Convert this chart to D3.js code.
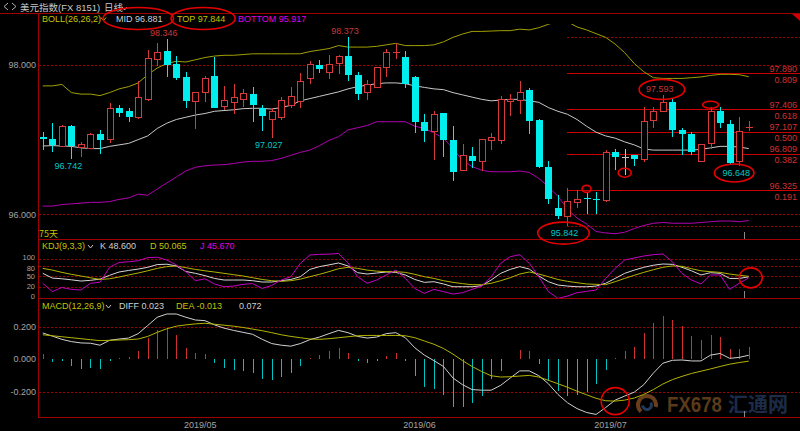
<!DOCTYPE html>
<html><head><meta charset="utf-8">
<script src="https://cdn.jsdelivr.net/npm/d3@7/dist/d3.min.js"></script>
<style>
html,body{margin:0;padding:0;background:#000;}
svg{display:block;}
text{font-family:"Liberation Sans",Arial,"Noto Sans CJK SC",sans-serif;font-size:9px;}
</style></head><body>
<svg id="chart" width="800" height="431"></svg>
<script>
// ---------------- DATA ----------------
const dates = [
"2019-04-08","2019-04-09","2019-04-10","2019-04-11","2019-04-12","2019-04-15","2019-04-16","2019-04-17","2019-04-18","2019-04-19",
"2019-04-22","2019-04-23","2019-04-24","2019-04-25","2019-04-26","2019-04-29","2019-04-30","2019-05-01","2019-05-02","2019-05-03",
"2019-05-06","2019-05-07","2019-05-08","2019-05-09","2019-05-10","2019-05-13","2019-05-14","2019-05-15","2019-05-16","2019-05-17",
"2019-05-20","2019-05-21","2019-05-22","2019-05-23","2019-05-24","2019-05-27","2019-05-28","2019-05-29","2019-05-30","2019-05-31",
"2019-06-03","2019-06-04","2019-06-05","2019-06-06","2019-06-07","2019-06-10","2019-06-11","2019-06-12","2019-06-13","2019-06-14",
"2019-06-17","2019-06-18","2019-06-19","2019-06-20","2019-06-21","2019-06-24","2019-06-25","2019-06-26","2019-06-27","2019-06-28",
"2019-07-01","2019-07-02","2019-07-03","2019-07-04","2019-07-05","2019-07-08","2019-07-09","2019-07-10","2019-07-11","2019-07-12",
"2019-07-15","2019-07-16","2019-07-17","2019-07-18","2019-07-19"];

const open = [97.04,97.01,96.92,97.18,96.90,96.89,97.07,97.01,97.42,97.38,
97.30,97.55,98.08,98.19,98.01,97.84,97.52,97.64,97.85,97.45,
97.50,97.55,97.61,97.42,97.27,97.30,97.46,97.52,97.82,97.995,
97.91,98.03,98.12,97.87,97.64,97.71,97.97,98.17,98.11,97.84,
97.24,97.12,97.36,96.99,96.59,96.78,96.71,97.00,96.99,97.52,
97.53,97.66,97.26,96.64,96.09,95.98,96.17,96.22,96.21,96.19,
96.83,96.77,96.79,96.74,97.26,97.38,97.50,97.13,97.08,96.72,
96.95,97.38,97.21,96.71,97.16];
const high = [97.10,97.22,97.20,97.19,96.97,97.09,97.13,97.49,97.46,97.42,
97.78,98.20,98.30,98.346,98.12,97.90,97.64,97.85,98.11,97.72,
97.75,97.68,97.70,97.46,97.43,97.57,97.71,97.89,98.05,98.07,
98.13,98.13,98.373,97.91,97.80,97.97,98.21,98.30,98.19,97.85,
97.34,97.38,97.36,97.18,96.94,96.90,97.01,97.09,97.58,97.61,
97.78,97.69,97.27,96.71,96.26,96.35,96.33,96.30,96.30,96.86,
96.87,96.87,96.79,97.44,97.44,97.593,97.55,97.15,97.10,96.94,
97.44,97.44,97.26,97.30,97.25];
const low = [96.86,96.84,96.91,96.742,96.77,96.87,96.81,96.96,97.31,97.24,
97.28,97.52,97.98,97.84,97.80,97.43,97.14,97.50,97.43,97.40,
97.35,97.44,97.24,97.12,97.027,97.26,97.43,97.43,97.75,97.89,
97.81,97.88,97.79,97.53,97.53,97.69,97.84,98.08,97.69,97.09,
96.97,96.73,96.77,96.45,96.59,96.62,96.58,96.86,96.94,97.32,
97.35,97.08,96.62,96.14,95.94,95.842,96.08,96.01,96.00,96.16,
96.59,96.53,96.65,96.70,97.16,97.38,97.03,96.79,96.79,96.72,
96.88,97.15,96.66,96.648,97.12];
const close = [97.01,96.93,97.18,96.92,96.94,97.08,97.00,97.42,97.36,97.30,
97.57,98.09,98.17,98.00,97.82,97.52,97.64,97.83,97.43,97.53,
97.57,97.62,97.46,97.32,97.38,97.53,97.58,97.79,98.02,97.95,
98.02,98.12,97.87,97.61,97.75,97.97,98.17,98.18,97.75,97.23,
97.12,97.35,97.00,96.57,96.79,96.71,97.01,97.04,97.55,97.55,
97.64,97.25,96.64,96.21,95.98,96.18,96.21,96.21,96.20,96.83,
96.77,96.77,96.74,97.25,97.38,97.50,97.13,97.08,96.83,96.94,
97.38,97.22,96.69,97.12,97.17];

const bollUp = [97.72,97.72,97.74,97.63,97.61,97.61,97.59,97.63,97.68,97.71,
97.76,97.87,97.96,98.02,98.05,98.04,98.07,98.10,98.12,98.13,
98.13,98.14,98.15,98.15,98.15,98.15,98.15,98.15,98.18,98.20,
98.22,98.26,98.24,98.24,98.24,98.25,98.27,98.29,98.26,98.26,
98.26,98.27,98.31,98.37,98.415,98.45,98.45,98.455,98.46,98.46,
98.48,98.47,98.50,98.545,98.59,98.58,98.51,98.47,98.42,98.37,
98.28,98.165,98.02,97.91,97.83,97.82,97.82,97.82,97.83,97.84,
97.86,97.875,97.875,97.87,97.844];
const bollMid = [96.915,96.92,96.915,96.91,96.89,96.88,96.88,96.91,96.93,96.95,
97.00,97.05,97.15,97.22,97.27,97.30,97.33,97.35,97.38,97.39,
97.40,97.415,97.42,97.42,97.41,97.43,97.46,97.52,97.55,97.58,
97.61,97.64,97.68,97.71,97.73,97.75,97.76,97.76,97.75,97.72,
97.70,97.68,97.67,97.63,97.60,97.57,97.54,97.52,97.53,97.54,
97.54,97.52,97.50,97.43,97.38,97.34,97.27,97.18,97.10,97.05,
97.02,96.97,96.93,96.875,96.86,96.86,96.86,96.86,96.86,96.87,
96.89,96.91,96.91,96.90,96.881];
const bollLow = [96.11,96.11,96.13,96.14,96.15,96.16,96.16,96.17,96.20,96.22,
96.27,96.255,96.34,96.42,96.50,96.58,96.63,96.65,96.66,96.665,
96.68,96.70,96.71,96.71,96.72,96.75,96.79,96.83,96.86,96.92,
96.99,97.04,97.13,97.16,97.19,97.24,97.24,97.24,97.24,97.18,
97.15,97.09,97.02,96.88,96.72,96.64,96.59,96.57,96.57,96.57,
96.58,96.56,96.48,96.37,96.24,96.07,95.95,95.87,95.77,95.75,
95.74,95.76,95.81,95.85,95.88,95.89,95.88,95.88,95.88,95.89,
95.90,95.91,95.91,95.90,95.917];

const kVals = [58.7,45,43,40,36.5,38.5,42,53,62.5,67,
71,76,84,85,80,64,58.7,52,44,39.4,
39.4,39.4,37.5,33.7,33.7,37.5,41,49,70,78,
83,88.5,80,60.6,56.7,59.6,62.5,61.5,54,41,
32.7,34.6,28,20,20,20,23,39.4,58.7,70,
78,71,51,34.6,25,22,20,20,22,30,
44,58.7,68,76,82,85.6,84.6,76,66,54,
60.6,58.7,44,44,48.6];
const dVals = [73,68,61.5,55.8,51,46,41,43,48,54,
59.6,66,73,78,80,75,70,66,62.5,58.7,
54.8,51,46,41,37.5,35.6,37.5,42,49,55.8,
63.5,72,76,73,68,65,63.5,63.5,61.5,55.8,
49,44,37.5,32.7,29,26,26,30,37.5,46,
56.7,62.5,56.7,49,41,35.6,31.7,28,27,26,
34.6,44,53,61.5,69,76,80,79,72,66,
63.5,61.5,56.7,53,50.065];
const jVals = [30,6,18,12.5,10.6,30,33,76,90,92,
95,104,105,97,83,63.5,37.5,43,28,20,
22,27,29,15,24,39.4,49,87.5,111.5,113.5,
114,116,89,49,30,39.4,54,68,44,15,
1,12.5,6,-1,3,12.5,22,49,87.5,106.7,
112.5,87.5,49,6,-13.5,-6.7,3,6.7,10.6,44,
73,97,103,108.7,112.5,114.4,92,58.7,39.4,28,
54,54,12.5,30,45.67];

const macdHist = [0.028,-0.016,-0.01,-0.04,-0.063,-0.053,-0.059,-0.012,0.008,0.014,
0.05,0.13,0.18,0.19,0.147,0.07,0.038,0.032,-0.026,-0.053,
-0.067,-0.071,-0.087,-0.121,-0.129,-0.111,-0.087,-0.046,0.004,0.024,
0.048,0.065,0.04,-0.01,-0.026,-0.01,0.018,0.038,-0.012,-0.103,
-0.174,-0.184,-0.222,-0.293,-0.293,-0.269,-0.228,-0.121,-0.071,0.002,
0.055,0.048,-0.032,-0.133,-0.198,-0.228,-0.224,-0.204,-0.152,-0.067,
0.006,0.048,0.075,0.16,0.222,0.267,0.24,0.202,0.141,0.115,
0.145,0.135,0.059,0.059,0.072];
const diffVals = [0.160,0.141,0.121,0.107,0.099,0.097,0.085,0.115,0.123,0.129,
0.156,0.206,0.257,0.277,0.277,0.257,0.240,0.236,0.21,0.19,
0.176,0.164,0.152,0.121,0.095,0.085,0.079,0.095,0.119,0.135,
0.156,0.176,0.162,0.139,0.129,0.135,0.156,0.162,0.131,0.069,
0.024,-0.01,-0.046,-0.117,-0.158,-0.188,-0.192,-0.192,-0.162,-0.117,
-0.073,-0.073,-0.103,-0.152,-0.218,-0.269,-0.305,-0.329,-0.341,-0.299,
-0.253,-0.228,-0.204,-0.158,-0.087,-0.026,-0.008,-0.006,-0.012,-0.012,
0.024,0.034,0.004,0.01,0.023];
const deaVals = [0.149,0.143,0.137,0.131,0.125,0.119,0.113,0.115,0.117,0.119,
0.123,0.139,0.164,0.186,0.202,0.21,0.216,0.22,0.214,0.208,
0.202,0.194,0.184,0.174,0.162,0.149,0.139,0.131,0.123,0.121,
0.125,0.131,0.137,0.143,0.145,0.145,0.145,0.145,0.143,0.131,
0.111,0.091,0.065,0.030,-0.01,-0.046,-0.077,-0.103,-0.111,-0.109,
-0.105,-0.101,-0.111,-0.131,-0.152,-0.174,-0.198,-0.220,-0.242,-0.257,
-0.259,-0.253,-0.240,-0.218,-0.188,-0.154,-0.127,-0.107,-0.089,-0.075,
-0.061,-0.046,-0.032,-0.022,-0.013];

const priceTicks = [98, 96];
const kdjTicks = [100, 80, 50, 20, 0];
const kdjGrid = [100, 80, 50, 20];
const macdTicks = [0.2, 0, -0.2];
const macdGrid = [0.2, -0.2];
const monthStarts = ["2019-05-01", "2019-06-03", "2019-07-01"];
const monthLabels = ["2019/05", "2019/06", "2019/07"];

const fibStart = "2019-06-24";
const fibSolid = [97.890, 97.406, 97.107, 96.809, 96.325];
const fibRatio = ["0.809", "0.618", "0.500", "0.382", "0.191"];
const fibDotted = [98.373, 95.842];

const highMarks = [13, 32, 65];
const lowMarks = [3, 24, 55, 73];

// ---------------- DRAW ----------------
const svg = d3.select("#chart");
const C = {red:"#d83a3a", cyan:"#00eeee", gray:"#c4c4c4", border:"#a00000", grid:"#a00000",
  axis:"#a4a4a4", olive:"#c4c400", up:"#a0a000", mid:"#c8c8c8", low:"#b000b0", mag:"#e000e0",
  fib:"#cc0000", fibText:"#d43030", ann:"#e60000", hiTxt:"#c83838", loTxt:"#00c8c8"};

svg.append("rect").attr("width",800).attr("height",431).attr("fill","#000");

const L = 38, step = 9.54;
const x = d3.scaleBand().domain(dates).range([L, L + dates.length*step]).padding(0);
const cx = i => x(dates[i]) + x.bandwidth()/2;
const yP = d3.scaleLinear().domain([96, 98]).range([214.3, 65]);
const yK = d3.scaleLinear().domain([0, 100]).range([293.7, 259]);
const yM = d3.scaleLinear().domain([-0.2, 0.2]).range([391.5, 326.5]);
const cr = v => Math.round(v) + 0.5;

const defs = svg.append("defs");
function clip(id, y0, y1){ defs.append("clipPath").attr("id",id).append("rect")
  .attr("x",L+1).attr("y",y0).attr("width",800-L).attr("height",y1-y0); }
clip("cMain", 24, 239); clip("cKdj", 240, 298); clip("cMacd", 299, 417);

// watermark (under everything)
const wm = svg.append("g");
wm.append("path").attr("d", d3.arc()({innerRadius:7, outerRadius:11, startAngle:-2.4, endAngle:1.8}))
  .attr("transform","translate(647,405)").attr("fill","#6a3e1a");
wm.append("path").attr("d", d3.arc()({innerRadius:3, outerRadius:6, startAngle:1.0, endAngle:4.6}))
  .attr("transform","translate(647,405)").attr("fill","#23395a");
wm.append("text").attr("x",667).attr("y",412).attr("textLength",55).attr("lengthAdjust","spacingAndGlyphs")
  .style("font-size","22px").style("font-weight","bold").attr("fill","#5a3a1a").text("FX678");
wm.append("text").attr("x",728).attr("y",412).attr("textLength",60).attr("lengthAdjust","spacingAndGlyphs")
  .style("font-size","20px").style("font-weight","bold").style("font-family","'Noto Sans CJK SC',sans-serif")
  .attr("fill","#1c2c48").text("汇通网");

// grid dotted
const gGrid = svg.append("g").attr("shape-rendering","crispEdges");
function dotted(y, x0){ gGrid.append("line").attr("x1",x0).attr("x2",800).attr("y1",cr(y)).attr("y2",cr(y))
  .attr("stroke",C.grid).attr("stroke-dasharray","2,2"); }
priceTicks.forEach(v => dotted(yP(v), L+1));
kdjGrid.forEach(v => dotted(yK(v), L+1));
macdGrid.forEach(v => dotted(yM(v), L+1));
fibDotted.forEach(v => dotted(yP(v), cx(dates.indexOf(fibStart))));

// frame
const gF = svg.append("g").attr("shape-rendering","crispEdges").attr("stroke",C.border);
gF.append("line").attr("x1",0).attr("x2",800).attr("y1",13.5).attr("y2",13.5);
gF.append("line").attr("x1",L+0.5).attr("x2",L+0.5).attr("y1",13).attr("y2",418);
[239.5, 298.5, 417.5].forEach(y => gF.append("line").attr("x1",L).attr("x2",800).attr("y1",y).attr("y2",y));
svg.append("path").attr("d","M792,14L800,14L800,21Z").attr("fill","#cc0000");

// axis labels
const gA = svg.append("g").attr("fill",C.axis).attr("text-anchor","end");
priceTicks.forEach(v => gA.append("text").attr("x",36).attr("y",yP(v)+3.3).text(v.toFixed(3)));
// KDJ tick labels are tightly packed: small font, nudged apart so they do not collide
const kdjNudge = {100:-1.6, 80:1.8, 50:0, 20:-0.8, 0:2.2};
kdjTicks.forEach(v => gA.append("text").attr("x",35).attr("y",yK(v)+2.8+kdjNudge[v])
  .style("font-size","7.5px").text(v));
macdTicks.forEach(v => gA.append("text").attr("x",36).attr("y",yM(v)+3.3).text(v.toFixed(3)));
monthStarts.forEach((d,k) => svg.append("text").attr("x",x(d)).attr("y",428).attr("text-anchor","middle")
  .attr("fill",C.axis).text(monthLabels[k]));

// fib solid lines
const fx0 = cx(dates.indexOf(fibStart));
const gFib = svg.append("g");
fibSolid.forEach((v,k) => {
  gFib.append("line").attr("x1",fx0).attr("x2",800).attr("y1",cr(yP(v))).attr("y2",cr(yP(v)))
    .attr("stroke",C.fib).attr("shape-rendering","crispEdges");
  gFib.append("text").attr("x",797).attr("y",yP(v)-1.5).attr("text-anchor","end").attr("fill",C.fibText).text(v.toFixed(3));
  gFib.append("text").attr("x",797).attr("y",yP(v)+9.5).attr("text-anchor","end").attr("fill",C.fibText).text(fibRatio[k]);
});

// bands
const gMain = svg.append("g").attr("clip-path","url(#cMain)");
const lineP = d3.line().x((d,i)=>cx(i)).y(d=>yP(d));
[[bollUp,C.up],[bollMid,C.mid],[bollLow,C.low]].forEach(([arr,col]) =>
  gMain.append("path").datum(arr).attr("d",lineP).attr("fill","none").attr("stroke",col).attr("stroke-width",1));

// candles
const gC = gMain.append("g").attr("shape-rendering","crispEdges");
dates.forEach((d,i) => {
  const o=open[i], c=close[i], h=high[i], l=low[i];
  const col = c>o ? C.red : (c<o ? C.cyan : C.gray);
  const xc = cr(cx(i));
  const yt = yP(Math.max(o,c)), yb = yP(Math.min(o,c));
  gC.append("line").attr("x1",xc).attr("x2",xc).attr("y1",yP(h)).attr("y2",yP(l)).attr("stroke",col);
  if (yb - yt < 1.5) {
    gC.append("line").attr("x1",xc-3.5).attr("x2",xc+3.5).attr("y1",cr(yt)).attr("y2",cr(yt)).attr("stroke",col);
  } else if (c>o) {
    gC.append("rect").attr("x",xc-3).attr("y",cr(yt)).attr("width",6).attr("height",Math.round(yb)-Math.round(yt))
      .attr("fill","#000").attr("stroke",col);
  } else {
    gC.append("rect").attr("x",xc-3.5).attr("y",Math.round(yt)).attr("width",7).attr("height",Math.max(1,Math.round(yb)-Math.round(yt)))
      .attr("fill",col);
  }
});

// extreme labels
const gLab = svg.append("g").attr("text-anchor","middle");
const labPos = {};
highMarks.forEach(i => { const t = gLab.append("text").attr("x",cx(i)-3).attr("y",yP(high[i])-3).attr("fill",C.hiTxt).text(high[i].toFixed(3)); labPos[i]=t; });
lowMarks.forEach(i => { const t = gLab.append("text").attr("x",cx(i)-3).attr("y",yP(low[i])+10).attr("fill",C.loTxt).text(low[i].toFixed(3)); labPos['l'+i]=t; });

// KDJ
const gK = svg.append("g").attr("clip-path","url(#cKdj)");
const lineK = d3.line().x((d,i)=>cx(i)).y(d=>yK(d));
[[kVals,"#d8d8d8"],[dVals,"#b4b400"],[jVals,"#c400c4"]].forEach(([arr,col]) =>
  gK.append("path").datum(arr).attr("d",lineK).attr("fill","none").attr("stroke",col));

// MACD
const gM = svg.append("g").attr("clip-path","url(#cMacd)");
const gH = gM.append("g").attr("shape-rendering","crispEdges");
macdHist.forEach((v,i) => gH.append("line").attr("x1",cr(cx(i))).attr("x2",cr(cx(i)))
  .attr("y1",yM(0)).attr("y2",yM(v)).attr("stroke", v>=0 ? "#d03030" : "#00c4c4"));
const lineM = d3.line().x((d,i)=>cx(i)).y(d=>yM(d));
gM.append("path").datum(diffVals).attr("d",lineM).attr("fill","none").attr("stroke","#d0d0d0");
gM.append("path").datum(deaVals).attr("d",lineM).attr("fill","none").attr("stroke","#b4b400");

// cursor ticks
const xCur = cr(x(dates[dates.length-1]));
[[232,239],[291,298],[411,417]].forEach(([a,b]) => svg.append("line").attr("x1",xCur).attr("x2",xCur)
  .attr("y1",a).attr("y2",b).attr("stroke","#8a8a8a").attr("shape-rendering","crispEdges"));

// legends
const n = dates.length-1;
function chev(x0, yb, col){ svg.append("polyline").attr("points",`${x0},${yb-5} ${x0+2.5},${yb-2} ${x0+5},${yb-5}`)
  .attr("fill","none").attr("stroke",col).attr("stroke-width",1); }
function txt(xp, yp, s, col){ return svg.append("text").attr("x",xp).attr("y",yp).attr("fill",col).text(s); }
// title
svg.append("polyline").attr("points","8,3 4,6.5 8,10").attr("fill","none").attr("stroke","#b0b0b0");
svg.append("polyline").attr("points","12,3 16,6.5 12,10").attr("fill","none").attr("stroke","#b0b0b0");
txt(20, 10.5, "美元指数(FX 8151)", "#c8c8c8").style("font-size","9.5px");
txt(104, 10.5, "日线", "#c8c8c8").style("font-size","9.5px");
chev(122, 12, "#c8c8c8");
// BOLL
const yl = 21.5;
txt(42, yl, "BOLL(26,26,2)", C.olive); chev(101, yl+1, C.olive);
const tMid = txt(116, yl, "MID " + bollMid[n].toFixed(3), "#c8d0d8");
const tTop = txt(177, yl, "TOP " + bollUp[n].toFixed(3), C.olive);
txt(238, yl, "BOTTOM " + bollLow[n].toFixed(3), C.mag);
// KDJ
const yk = 249;
txt(42, yk, "KDJ(9,3,3)", C.olive); chev(88, yk+1, "#c8c8c8");
txt(100, yk, "K " + kVals[n].toFixed(3), "#d0d0d0");
txt(150, yk, "D " + dVals[n].toFixed(3), C.olive);
txt(200, yk, "J " + jVals[n].toFixed(3), C.mag);
// MACD
const ym = 309;
txt(42, ym, "MACD(12,26,9)", C.olive); chev(106, ym+1, "#c8c8c8");
txt(119, ym, "DIFF " + diffVals[n].toFixed(3), "#d0d0d0");
txt(176, ym, "DEA " + deaVals[n].toFixed(3), C.olive);
txt(239, ym, macdHist[n].toFixed(3), "#d0d0d0");
// 75天
txt(39, 236.5, "75天", C.olive).style("font-family","'Noto Sans CJK SC',sans-serif");

// annotations (hand-drawn red ellipses)
const gAnn = svg.append("g").attr("fill","none").attr("stroke",C.ann).attr("stroke-width",1.6);
function ell(cxp, cyp, rx, ry){ gAnn.append("ellipse").attr("cx",cxp).attr("cy",cyp).attr("rx",rx).attr("ry",ry); }
function aroundText(t, padX, ry, dx){ const b = t.node().getBBox(); ell(b.x + b.width/2 + (dx||0), b.y + b.height/2, b.width/2 + padX, ry); }
aroundText(tMid, 12, 11, -1);
aroundText(tTop, 8, 11, 2);
aroundText(labPos[65], 9, 10, 2);
aroundText(labPos['l55'], 12, 11, -1);
aroundText(labPos['l73'], 6, 9, -2);
ell(cx(70), yP(high[70]) - 2, 8, 3.5);
ell(cx(57), yP(high[57]) - 3, 4.5, 3.5);
ell(cx(61), yP(low[61]) - 2, 6.5, 4.5);
ell(cx(n) + 2, yK(kVals[n]) + 1, 11.5, 10);
ell(cx(60), yM(deaVals[60]), 14, 13.5);
</script>
</body></html>
